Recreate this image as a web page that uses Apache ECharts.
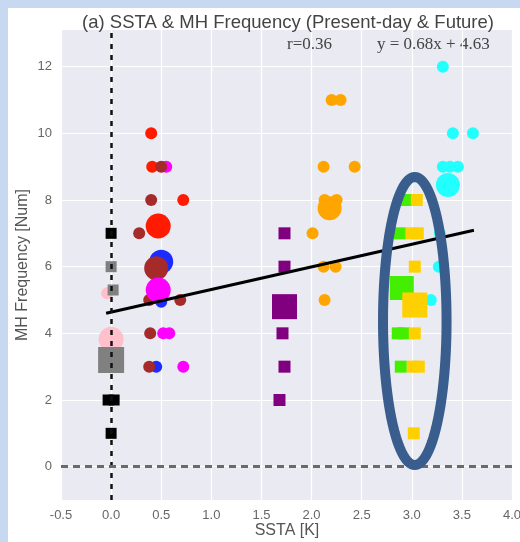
<!DOCTYPE html>
<html>
<head>
<meta charset="utf-8">
<script src="https://cdn.jsdelivr.net/npm/echarts@6/dist/echarts.min.js"></script>
<style>
  html, body { margin: 0; padding: 0; background: #c6d9f0; }
  #main { position: absolute; left: 8px; top: 8px; width: 512px; height: 534px; background: #fff; }
</style>
</head>
<body>
<div id="main"></div>
<script>
// y tick labels
var yTicks = [0, 2, 4, 6, 8, 10, 12];

// individual points  [SSTA, MH frequency]
var pinkPts    = [[-0.04, 5.2]];
var grayPts    = [[0, 6], [0.02, 5.3]];
var blackPts   = [[0, 7], [-0.03, 2], [0.03, 2], [0, 1]];
var magentaPts = [[0.55, 9], [0.52, 4], [0.58, 4], [0.72, 3]];
var bluePts    = [[0.5, 4.95], [0.45, 3]];
var redPts     = [[0.40, 10], [0.41, 9], [0.72, 8]];
var brownPts   = [[0.5, 9], [0.40, 8], [0.28, 7], [0.38, 5], [0.69, 5], [0.39, 4], [0.38, 3]];
var purplePts  = [[1.73, 7], [1.73, 6], [1.71, 4], [1.73, 3], [1.68, 2]];
var orangePts  = [[2.2, 11], [2.29, 11], [2.12, 9], [2.43, 9], [2.13, 8], [2.25, 8], [2.01, 7], [2.12, 6], [2.24, 6], [2.13, 5]];
var greenPts   = [[2.94, 8], [2.88, 7], [2.86, 4], [2.92, 4], [2.89, 3]];
var goldPts    = [[3.05, 8], [3.0, 7], [3.06, 7], [3.03, 6], [3.03, 4], [3.01, 3], [3.07, 3], [3.02, 1]];
var cyanPts    = [[3.31, 12], [3.41, 10], [3.61, 10], [3.31, 9], [3.38, 9], [3.46, 9], [3.28, 7], [3.27, 6], [3.19, 5]];

// group means (big markers)
var pinkMean    = [[0, 3.82]];
var grayMean    = [[0, 3.2]];
var blueMean    = [[0.5, 6.15]];
var brownMean   = [[0.45, 5.95]];
var redMean     = [[0.47, 7.22]];
var magentaMean = [[0.47, 5.3]];
var purpleMean  = [[1.73, 4.8]];
var orangeMean  = [[2.18, 7.75]];
var greenMean   = [[2.9, 5.36]];
var goldMean    = [[3.03, 4.85]];
var cyanMean    = [[3.36, 8.45]];

// regression line end points
var fitX = [-0.05, 3.62];
var fitY = [4.60, 7.09];

// highlight ellipse [cx, cy, rx, ry]
var ellipse = [[3.03, 4.37, 0.317, 4.32]];

var FONT = 'Liberation Sans';

function sc(name, data, color, symbol, size, z) {
  return {
    name: name, type: 'scatter', data: data, z: z,
    symbol: symbol, symbolSize: size,
    itemStyle: { color: color, opacity: 1 },
    emphasis: { disabled: true }
  };
}

var series = [
  {
    name: 'grid', type: 'line', data: [], z: 1, silent: true,
    markLine: {
      z: 1, symbol: 'none', silent: true, label: { show: false },
      lineStyle: { color: '#ffffff', width: 1.2, type: 'solid' },
      data: yTicks.map(function (v) { return { yAxis: v }; })
    }
  },
  sc('pink', pinkPts, '#ffc0cb', 'circle', 12, 2),
  sc('gray', grayPts, '#808080', 'rect', 11, 2),
  sc('black', blackPts, '#000000', 'rect', 11, 2),
  sc('magenta', magentaPts, '#ff00ff', 'circle', 12, 2),
  sc('blue', bluePts, '#1a2cff', 'circle', 12, 2),
  sc('red', redPts, '#ff1a00', 'circle', 12, 2),
  sc('brown', brownPts, '#a52a2a', 'circle', 12, 2),
  sc('purple', purplePts, '#800080', 'rect', 12, 2),
  sc('orange', orangePts, '#ffa500', 'circle', 12, 2),
  sc('green', greenPts, '#44ee00', 'rect', 12, 2),
  sc('gold', goldPts, '#ffd000', 'rect', 12, 2),
  sc('cyan', cyanPts, '#22ffff', 'circle', 12, 2),

  sc('pink mean', pinkMean, '#ffc0cb', 'circle', 25, 3),
  sc('gray mean', grayMean, '#808080', 'rect', 26, 3),
  sc('blue mean', blueMean, '#1a2cff', 'circle', 24, 3),
  sc('brown mean', brownMean, '#a52a2a', 'circle', 24, 3),
  sc('red mean', redMean, '#ff1a00', 'circle', 25, 3),
  sc('magenta mean', magentaMean, '#ff00ff', 'circle', 25, 3),
  sc('purple mean', purpleMean, '#800080', 'rect', 25, 3),
  sc('orange mean', orangeMean, '#ffa500', 'circle', 24, 3),
  sc('green mean', greenMean, '#44ee00', 'rect', 24, 3),
  sc('gold mean', goldMean, '#ffd000', 'rect', 25, 3),
  sc('cyan mean', cyanMean, '#22ffff', 'circle', 24, 3),

  {
    name: 'fit', type: 'line', z: 4, silent: true,
    data: fitX.map(function (x, i) { return [x, fitY[i]]; }),
    symbol: 'none',
    lineStyle: { color: '#000', width: 3 },
    markLine: {
      z: 5, symbol: 'none', silent: true, label: { show: false },
      data: [
        { xAxis: 0, lineStyle: { color: '#111', width: 2.5, type: [5, 6] } },
        { yAxis: 0, lineStyle: { color: '#6a6a6a', width: 3, type: [7, 5] } }
      ]
    }
  },
  {
    name: 'ellipse', type: 'custom', z: 6, silent: true,
    data: ellipse,
    encode: { x: 0, y: 1 },
    renderItem: function (params, api) {
      var c = api.coord([api.value(0), api.value(1)]);
      var s = api.size([api.value(2), api.value(3)]);
      var pts = [];
      for (var i = 0; i < 120; i++) {
        var t = i / 120 * Math.PI * 2;
        pts.push([c[0] + s[0] * Math.cos(t), c[1] + s[1] * Math.sin(t)]);
      }
      return {
        type: 'polygon', shape: { points: pts },
        style: { fill: null, stroke: '#395d8c', lineWidth: 10 }
      };
    }
  }
];

var chart = echarts.init(document.getElementById('main'));
chart.setOption({
  animation: false,
  backgroundColor: '#ffffff',
  textStyle: { fontFamily: FONT },
  title: {
    text: '(a) SSTA & MH Frequency (Present-day & Future)',
    left: 275, top: 0, textAlign: 'center',
    textStyle: { fontFamily: FONT, fontSize: 18.5, fontWeight: 'normal', color: '#444' }
  },
  grid: {
    left: 53, right: 8, top: 22, bottom: 42, outerBoundsMode: 'none',
    show: true, backgroundColor: '#eaeaf2', borderWidth: 0
  },
  xAxis: {
    type: 'value', min: -0.5, max: 4.0, interval: 0.5,
    axisLine: { show: false }, axisTick: { show: false },
    axisLabel: { margin: 9, fontSize: 13, color: '#666', formatter: function (v) { return v.toFixed(1); } },
    splitLine: { show: true, lineStyle: { color: '#ffffff', width: 1.2 } }
  },
  yAxis: {
    type: 'value', min: -1, max: 13.1,
    axisLine: { show: false }, axisTick: { show: false },
    axisLabel: { margin: 9, fontSize: 13, color: '#666', customValues: yTicks },
    splitLine: { show: false }
  },
  graphic: [
    { type: 'text', x: 279, y: 523, style: { text: 'SSTA [K]', fontFamily: FONT, fontSize: 16, fill: '#555', align: 'center', verticalAlign: 'middle' } },
    { type: 'text', x: 15, y: 257, rotation: Math.PI / 2, style: { text: 'MH Frequency [Num]', fontFamily: FONT, fontSize: 16, fill: '#555', align: 'center', verticalAlign: 'middle' } },
    { type: 'text', left: 279, top: 28, style: { text: 'r=0.36', fontFamily: 'Liberation Serif', fontSize: 17, fill: '#444' } },
    { type: 'text', left: 369, top: 28, style: { text: 'y = 0.68x + 4.63', fontFamily: 'Liberation Serif', fontSize: 17, fill: '#444' } }
  ],
  series: series
});
</script>
</body>
</html>
